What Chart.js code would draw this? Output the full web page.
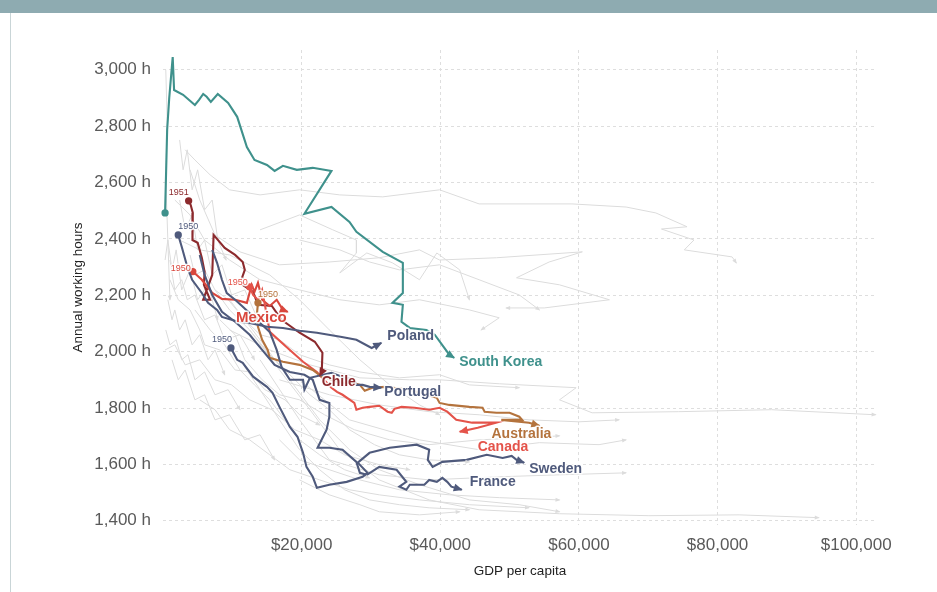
<!DOCTYPE html>
<html>
<head>
<meta charset="utf-8">
<script src="https://cdn.jsdelivr.net/npm/chart.js@4.4.1/dist/chart.umd.min.js"></script>
<style>
  html, body { margin: 0; padding: 0; background: #fff; }
  #wrap { position: absolute; left: 0; top: 0; width: 937px; height: 592px; }
  #band { position: absolute; left: 0; top: 0; width: 937px; height: 13px; background: #8eabb1; }
  #edge { position: absolute; left: 10px; top: 13px; width: 1px; height: 579px; background: #c9d5d7; }
</style>
</head>
<body>
<div id="wrap"><canvas id="chart" width="937" height="592"></canvas></div>
<div id="band"></div>
<div id="edge"></div>
<script>
// axis ticks
const xTicks = [20000, 40000, 60000, 80000, 100000];
const yTicks = [1400, 1600, 1800, 2000, 2200, 2400, 2600, 2800, 3000];

// highlighted countries: GDP per capita and annual working hours
const koreaGdp = [300, 600, 900, 1400, 1600, 2900, 4600, 5200, 5800, 6300, 6900, 7900, 9400, 10700, 12100, 13200, 15000, 16100, 17300, 19300, 21600, 24300, 20400, 24300, 26900, 27900, 31700, 34600, 34600, 33100, 34600, 34400, 35600, 38000, 39200, 41300, 42000];
const koreaHours = [2492, 2787, 2900, 3045, 2928, 2911, 2875, 2893, 2914, 2904, 2886, 2914, 2882, 2833, 2726, 2680, 2662, 2641, 2659, 2645, 2652, 2641, 2489, 2513, 2460, 2425, 2354, 2315, 2208, 2173, 2166, 2106, 2084, 2077, 2060, 1989, 1978];

const chileGdp = [3700, 4000, 4300, 4200, 4300, 5000, 5600, 6000, 5900, 6800, 5800, 7100, 7300, 8900, 10400, 11500, 11800, 11400, 11500, 13000, 13700, 15700, 17100, 19700, 21900, 23000, 22900, 22600];
const chileHours = [2535, 2520, 2492, 2450, 2396, 2386, 2333, 2283, 2237, 2184, 2184, 2272, 2414, 2368, 2343, 2318, 2290, 2262, 2237, 2212, 2166, 2162, 2113, 2067, 2035, 1996, 1928, 1914];

const mexicoGdp = [4300, 5600, 7100, 8500, 10400, 12100, 12800, 13200, 13700, 14300, 15400, 16400, 17300, 18000];
const mexicoHours = [2284, 2255, 2208, 2187, 2184, 2173, 2237, 2212, 2244, 2184, 2162, 2184, 2148, 2141];

const canadaGdp = [12500, 13000, 13700, 14300, 14700, 15400, 18300, 20200, 22200, 24300, 25100, 25900, 27600, 27900, 28800, 29800, 31200, 32400, 33000, 33400, 34400, 36300, 38400, 39900, 41000, 42300, 44600, 46700, 48100, 45400, 42800];
const canadaHours = [2230, 2201, 2184, 2219, 2166, 2070, 2006, 1964, 1928, 1872, 1857, 1847, 1818, 1794, 1801, 1804, 1808, 1787, 1783, 1797, 1804, 1801, 1794, 1801, 1787, 1758, 1748, 1748, 1748, 1730, 1716];

const australiaGdp = [13700, 13500, 13700, 14300, 15100, 15400, 17300, 19700, 21600, 22900, 23600, 25500, 27400, 28400, 29100, 30200, 32000, 35600, 39500, 39900, 41300, 44200, 46100, 46400, 48100, 50000, 51400, 51800, 48800, 52800, 54300];
const australiaHours = [2173, 2120, 2088, 2042, 2006, 1978, 1964, 1953, 1935, 1911, 1907, 1889, 1889, 1882, 1861, 1872, 1875, 1865, 1836, 1818, 1811, 1804, 1801, 1787, 1783, 1783, 1769, 1758, 1758, 1748, 1737];

const polandGdp = [2200, 2700, 3500, 4200, 5600, 6500, 7800, 8500, 9900, 10800, 12500, 15000, 17300, 19700, 22200, 25800, 27900, 30100, 31500];
const polandHours = [2414, 2372, 2301, 2255, 2208, 2173, 2148, 2123, 2113, 2106, 2102, 2088, 2084, 2074, 2067, 2052, 2042, 2013, 2031];

const portugalGdp = [7100, 7800, 8500, 9200, 10400, 11400, 13200, 15400, 16400, 17100, 18300, 20200, 20400, 21200, 24300, 26200, 27600, 27900, 28800, 29800, 31500];
const portugalHours = [2361, 2315, 2255, 2208, 2184, 2162, 2120, 2070, 2006, 1946, 1900, 1900, 1865, 1907, 1925, 1907, 1900, 1882, 1882, 1875, 1872];

const swedenGdp = [9800, 10700, 11500, 13000, 15000, 15800, 16800, 18300, 19400, 20200, 20700, 21600, 22200, 24000, 26500, 28800, 29500, 28100, 29800, 32700, 36600, 38400, 38200, 38900, 40300, 43800, 46700, 49000, 50300, 51000, 52100];
const swedenHours = [2013, 1971, 1960, 1911, 1875, 1854, 1804, 1733, 1698, 1641, 1591, 1556, 1517, 1528, 1538, 1556, 1570, 1606, 1641, 1659, 1670, 1652, 1616, 1591, 1609, 1616, 1634, 1623, 1630, 1616, 1606];

const franceGdp = [5300, 6000, 7100, 8500, 10400, 12500, 14300, 16100, 18300, 20400, 21600, 22600, 24000, 24000, 23600, 22300, 24000, 25900, 27900, 28400, 29400, 31200, 33700, 35100, 34100, 35100, 35600, 37700, 38400, 39500, 40300, 41000, 41600, 43100];
const franceHours = [2343, 2272, 2201, 2141, 2106, 2060, 2006, 1953, 1928, 1918, 1900, 1829, 1818, 1769, 1723, 1659, 1659, 1652, 1609, 1570, 1563, 1591, 1581, 1538, 1521, 1510, 1528, 1528, 1545, 1538, 1552, 1538, 1521, 1510];

// other countries (grey background)
const other1Gdp = [3200, 4600, 6800, 9600, 14000, 19700, 25500, 31700, 39900, 45600, 59000, 66800, 71100, 75600, 71900, 76600, 75200, 82100, 82700];
const other1Hours = [2716, 2680, 2627, 2574, 2556, 2574, 2556, 2549, 2574, 2524, 2524, 2513, 2492, 2443, 2435, 2396, 2361, 2336, 2315];
const other2Gdp = [3900, 5300, 7500, 11100, 16800, 24000, 31200, 37000, 39900, 48100, 60500, 55700, 51000, 57200, 64400, 55000, 49500];
const other2Hours = [2645, 2538, 2414, 2354, 2308, 2318, 2333, 2361, 2325, 2333, 2354, 2318, 2262, 2237, 2184, 2155, 2155];
const other3Gdp = [1700, 3900, 6000, 9600, 14000, 19700, 25500, 31200, 37000, 44200, 48500, 45900];
const other3Hours = [2538, 2485, 2396, 2325, 2255, 2219, 2184, 2166, 2184, 2148, 2120, 2077];
const other4Gdp = [9600, 15400, 21200, 28400, 35600, 39900, 48500, 59600, 57200, 61900, 74400, 87800, 102800];
const other4Hours = [2077, 2006, 1953, 1907, 1900, 1900, 1886, 1872, 1829, 1783, 1787, 1794, 1776];
const other5Gdp = [16800, 24000, 31200, 38400, 45600, 52800, 60000, 65800];
const other5Hours = [1900, 1847, 1811, 1787, 1776, 1758, 1751, 1758];
const other6Gdp = [9600, 14000, 18300, 22600, 26900, 31200, 37000, 44200, 51400, 57200];
const other6Hours = [2184, 2042, 1900, 1758, 1652, 1581, 1528, 1474, 1457, 1432];
const other7Gdp = [12500, 16800, 21200, 25500, 31200, 38400, 45600, 57200, 70100, 83100, 94600];
const other7Hours = [2077, 1935, 1794, 1652, 1545, 1474, 1439, 1425, 1418, 1421, 1411];
const other8Gdp = [14000, 19700, 24000, 31200, 38400, 48500, 57200, 66800];
const other8Hours = [1971, 1758, 1616, 1563, 1545, 1556, 1563, 1570];
const other9Gdp = [19700, 26900, 37000, 45600, 54300, 62900, 66800];
const other9Hours = [1900, 1758, 1687, 1652, 1677, 1670, 1687];
const other10Gdp = [2400, 5300, 9600, 15400, 19700, 24000, 28400, 32700, 37000, 39900];
const other10Hours = [2396, 2361, 2343, 2272, 2184, 2077, 1971, 1882, 1811, 1776];
const other11Gdp = [700, 1300, 1700, 2400, 3200, 4200, 5300, 6500, 7500, 8900];
const other11Hours = [2184, 2113, 2148, 2077, 2113, 2024, 2060, 1971, 2006, 1918];
const other12Gdp = [400, 1000, 1900, 2700, 3600, 4600, 6000, 7500, 9400, 11100];
const other12Hours = [2077, 2024, 2042, 1971, 1989, 1900, 1928, 1847, 1865, 1794];
const other13Gdp = [1000, 1700, 2700, 3500, 4600, 6000, 7500, 8900, 11100, 13200];
const other13Hours = [2325, 2219, 2255, 2184, 2201, 2113, 2130, 2042, 2060, 1971];
const other14Gdp = [1300, 2200, 3200, 4600, 6000, 7500, 9600, 11800, 14000, 16100];
const other14Hours = [1971, 1900, 1935, 1829, 1847, 1758, 1776, 1687, 1705, 1616];
const other15Gdp = [2400, 3200, 4200, 5000, 6000, 7100, 8500, 9900, 11800, 13700, 15400];
const other15Hours = [2538, 2432, 2485, 2361, 2396, 2272, 2308, 2201, 2219, 2113, 2130];
const other16Gdp = [4600, 6800, 8900, 11100, 13200, 15400, 17600, 19700, 22600, 26200, 29800];
const other16Hours = [2148, 2077, 2024, 1935, 1882, 1829, 1758, 1687, 1634, 1581, 1552];
const other17Gdp = [7500, 9600, 12500, 15400, 18300, 21200, 24000, 26900, 30500, 34100, 38400, 44200];
const other17Hours = [2219, 2148, 2077, 1989, 1918, 1847, 1794, 1723, 1670, 1634, 1616, 1609];
const other18Gdp = [11100, 14000, 16800, 19700, 22600, 26200, 29800, 34100, 38400, 44200];
const other18Hours = [1971, 1865, 1758, 1652, 1581, 1510, 1474, 1457, 1446, 1439];
const other19Gdp = [19700, 24000, 28400, 31200, 37000, 42800];
const other19Hours = [1545, 1492, 1457, 1432, 1421, 1432];
const other20Gdp = [2400, 2900, 3500, 4200, 5000, 6000, 7100, 7900, 9100];
const other20Hours = [2751, 2645, 2716, 2574, 2645, 2503, 2538, 2396, 2325];
const other21Gdp = [14000, 19700, 24500, 27900, 27900, 25500, 29400, 33100, 37000, 39500, 42800, 44200];
const other21Hours = [2432, 2485, 2432, 2396, 2350, 2279, 2350, 2315, 2255, 2350, 2290, 2184];
const other22Gdp = [400, 600, 400, 700, 1000];
const other22Hours = [3000, 2822, 2609, 2396, 2184];
const other23Gdp = [1000, 2200, 3900, 5300, 6000, 8200, 10400, 12500, 14700, 17600, 19700, 22600];
const other23Hours = [2255, 2184, 2148, 2077, 2024, 2006, 1935, 1928, 1865, 1829, 1776, 1740];
const other24Gdp = [300, 1700, 3200, 5300, 7500, 9900, 12500, 15700, 19000, 22600, 26200, 31200, 35600];
const other24Hours = [2006, 2024, 1953, 1971, 1900, 1882, 1829, 1794, 1723, 1687, 1634, 1599, 1581];
const other25Gdp = [3900, 4600, 6000, 7500, 9400, 11800, 14000, 16800, 19700, 24000, 28400, 34100, 39900, 44200, 51400];
const other25Hours = [2343, 2272, 2290, 2219, 2184, 2113, 2060, 2042, 1989, 1953, 1928, 1907, 1918, 1882, 1872];
const other26Gdp = [5300, 7500, 9600, 12500, 15400, 18300, 22600, 26900, 31200, 37000, 44200, 52800];
const other26Hours = [1829, 1794, 1723, 1687, 1634, 1581, 1545, 1510, 1492, 1474, 1457, 1446];
const other27Gdp = [8200, 10400, 11800, 14300, 16800, 19700, 23300, 27600, 32700, 38400, 45600, 51400, 57200];
const other27Hours = [2113, 2060, 1971, 1900, 1847, 1829, 1776, 1723, 1687, 1670, 1687, 1694, 1701];
const other28Gdp = [300, 700, 1300, 1900, 2700, 3900, 5000, 6500, 7900];
const other28Hours = [2325, 2396, 2290, 2361, 2219, 2290, 2184, 2237, 2113];
const other29Gdp = [16800, 19700, 24000, 28400, 34100, 41300, 48500, 57200];
const other29Hours = [1687, 1616, 1581, 1545, 1510, 1492, 1482, 1474];
const other30Gdp = [19700, 25500, 29800, 34100, 39900, 45600, 51400, 54300];
const other30Hours = [2396, 2361, 2318, 2290, 2308, 2255, 2201, 2148];

const teal = '#3f918c', slate = '#4f5a7c', red = '#d9473d', canRed = '#e4534a', darkRed = '#8c2a2d', brown = '#b4733d';

function pairs(g, h) { return g.map((v, i) => ({ x: v, y: h[i] })); }

const greys = [
  [other1Gdp, other1Hours], [other2Gdp, other2Hours], [other3Gdp, other3Hours], [other4Gdp, other4Hours],
  [other5Gdp, other5Hours], [other6Gdp, other6Hours], [other7Gdp, other7Hours], [other8Gdp, other8Hours],
  [other9Gdp, other9Hours], [other10Gdp, other10Hours], [other11Gdp, other11Hours], [other12Gdp, other12Hours],
  [other13Gdp, other13Hours], [other14Gdp, other14Hours], [other15Gdp, other15Hours], [other16Gdp, other16Hours],
  [other17Gdp, other17Hours], [other18Gdp, other18Hours], [other19Gdp, other19Hours], [other20Gdp, other20Hours],
  [other21Gdp, other21Hours], [other22Gdp, other22Hours], [other23Gdp, other23Hours], [other24Gdp, other24Hours],
  [other25Gdp, other25Hours], [other26Gdp, other26Hours], [other27Gdp, other27Hours], [other28Gdp, other28Hours],
  [other29Gdp, other29Hours], [other30Gdp, other30Hours]
].map(([g, h]) => ({
  data: pairs(g, h), borderColor: '#dcdcdc', borderWidth: 1, pointRadius: 0, order: 3, arrow: 4
}));

function country(g, h, color, tag, year, dot) {
  return {
    data: pairs(g, h), borderColor: color, backgroundColor: color, borderWidth: 2.1, order: 1, arrow: 8,
    clip: false,
    pointRadius: c => (dot && c.dataIndex === 0) ? 2.6 : 0,
    tag, year
  };
}

const highlighted = [
  country(koreaGdp, koreaHours, teal, { text: 'South Korea', align: 'left', dx: 5, dy: 4 }, null, true),
  country(polandGdp, polandHours, slate, { text: 'Poland', align: 'left', dx: 6, dy: -7 }, { text: '1950', align: 'left', dx: 0, dy: -8 }, true),
  country(portugalGdp, portugalHours, slate, { text: 'Portugal', align: 'left', dx: 3, dy: 4 }, null, false),
  country(swedenGdp, swedenHours, slate, { text: 'Sweden', align: 'left', dx: 5, dy: 6 }, { text: '1950', align: 'right', dx: 1, dy: -8 }, true),
  country(franceGdp, franceHours, slate, { text: 'France', align: 'left', dx: 8, dy: -8 }, null, false),
  country(australiaGdp, australiaHours, brown, { text: 'Australia', align: 'right', dx: 12, dy: 8 }, { text: '1950', align: 'left', dx: 0, dy: -8 }, true),
  country(canadaGdp, canadaHours, canRed, { text: 'Canada', align: 'left', dx: 18, dy: 15 }, { text: '1950', align: 'right', dx: -2, dy: -4 }, true),
  country(mexicoGdp, mexicoHours, red, { text: 'Mexico', align: 'right', dx: -1, dy: 6, size: 15 }, { text: '1950', align: 'right', dx: -2, dy: -3 }, true),
  country(chileGdp, chileHours, darkRed, { text: 'Chile', align: 'left', dx: 2, dy: 6 }, { text: '1951', align: 'right', dx: 0, dy: -8 }, true)
];

const annotate = {
  id: 'annotate',
  afterDatasetsDraw(chart) {
    const ctx = chart.ctx, xs = chart.scales.x, ys = chart.scales.y;
    const sets = chart.data.datasets.slice().sort((a, b) => b.order - a.order);
    sets.forEach(ds => {
      const n = ds.data.length, a = ds.data[n - 2], b = ds.data[n - 1];
      const x1 = xs.getPixelForValue(a.x), y1 = ys.getPixelForValue(a.y);
      const x2 = xs.getPixelForValue(b.x), y2 = ys.getPixelForValue(b.y);
      const s = ds.arrow;
      ctx.save();
      ctx.fillStyle = ds.borderColor;
      ctx.translate(x2, y2);
      ctx.rotate(Math.atan2(y2 - y1, x2 - x1));
      ctx.beginPath();
      ctx.moveTo(1, 0); ctx.lineTo(-s, -s * 0.5); ctx.lineTo(-s, s * 0.5); ctx.closePath();
      ctx.fill();
      ctx.restore();
    });
    const text = (t, x, y, color, font, align) => {
      ctx.save();
      ctx.font = font; ctx.textAlign = align; ctx.textBaseline = 'middle';
      ctx.lineWidth = 3; ctx.strokeStyle = 'rgba(255,255,255,0.9)'; ctx.lineJoin = 'round';
      ctx.strokeText(t, x, y);
      ctx.fillStyle = color; ctx.fillText(t, x, y);
      ctx.restore();
    };
    chart.data.datasets.forEach(ds => {
      if (ds.year) {
        const p = ds.data[0];
        text(ds.year.text, xs.getPixelForValue(p.x) + ds.year.dx, ys.getPixelForValue(p.y) + ds.year.dy,
          ds.borderColor, '9px "Liberation Sans", Arial, sans-serif', ds.year.align);
      }
    });
    chart.data.datasets.forEach(ds => {
      if (ds.tag) {
        const p = ds.data[ds.data.length - 1];
        text(ds.tag.text, xs.getPixelForValue(p.x) + ds.tag.dx, ys.getPixelForValue(p.y) + ds.tag.dy,
          ds.borderColor, 'bold ' + (ds.tag.size || 14) + 'px "Liberation Sans", Arial, sans-serif', ds.tag.align);
      }
    });
  }
};

const tickFont = { family: '"Liberation Sans", Arial, sans-serif', size: 17 };
const titleFont = { family: '"Liberation Sans", Arial, sans-serif', size: 13.5 };

new Chart(document.getElementById('chart'), {
  type: 'scatter',
  data: { datasets: highlighted.concat(greys).map(d => Object.assign({ showLine: true, tension: 0, fill: false, pointHoverRadius: 0 }, d)) },
  options: {
    responsive: false,
    animation: false,
    events: [],
    layout: { padding: { left: 70, right: 60, top: 50, bottom: 13 } },
    plugins: { legend: { display: false }, tooltip: { enabled: false } },
    scales: {
      x: {
        type: 'linear', min: 0, max: 103000,
        afterBuildTicks: s => { s.ticks = xTicks.map(v => ({ value: v })); },
        afterFit: s => { s.height = 54; },
        ticks: { color: '#5a5a5a', font: tickFont, padding: 10, maxRotation: 0,
          callback: v => '$' + v.toLocaleString('en-US') },
        grid: { color: '#dedede', lineWidth: 1, drawTicks: false },
        border: { display: false, dash: [3, 3] },
        title: { display: true, text: 'GDP per capita', color: '#222', font: titleFont, padding: 0 }
      },
      y: {
        type: 'linear', min: 1385, max: 3070,
        afterBuildTicks: s => { s.ticks = yTicks.map(v => ({ value: v })); },
        afterFit: s => { s.width = 93; },
        ticks: { color: '#5a5a5a', font: tickFont, padding: 12,
          callback: v => v.toLocaleString('en-US') + ' h' },
        grid: { color: '#dedede', lineWidth: 1, drawTicks: false },
        border: { display: false, dash: [3, 3] },
        title: { display: true, text: 'Annual working hours', color: '#222', font: titleFont, padding: 0 }
      }
    }
  },
  plugins: [annotate]
});
</script>
</body>
</html>
